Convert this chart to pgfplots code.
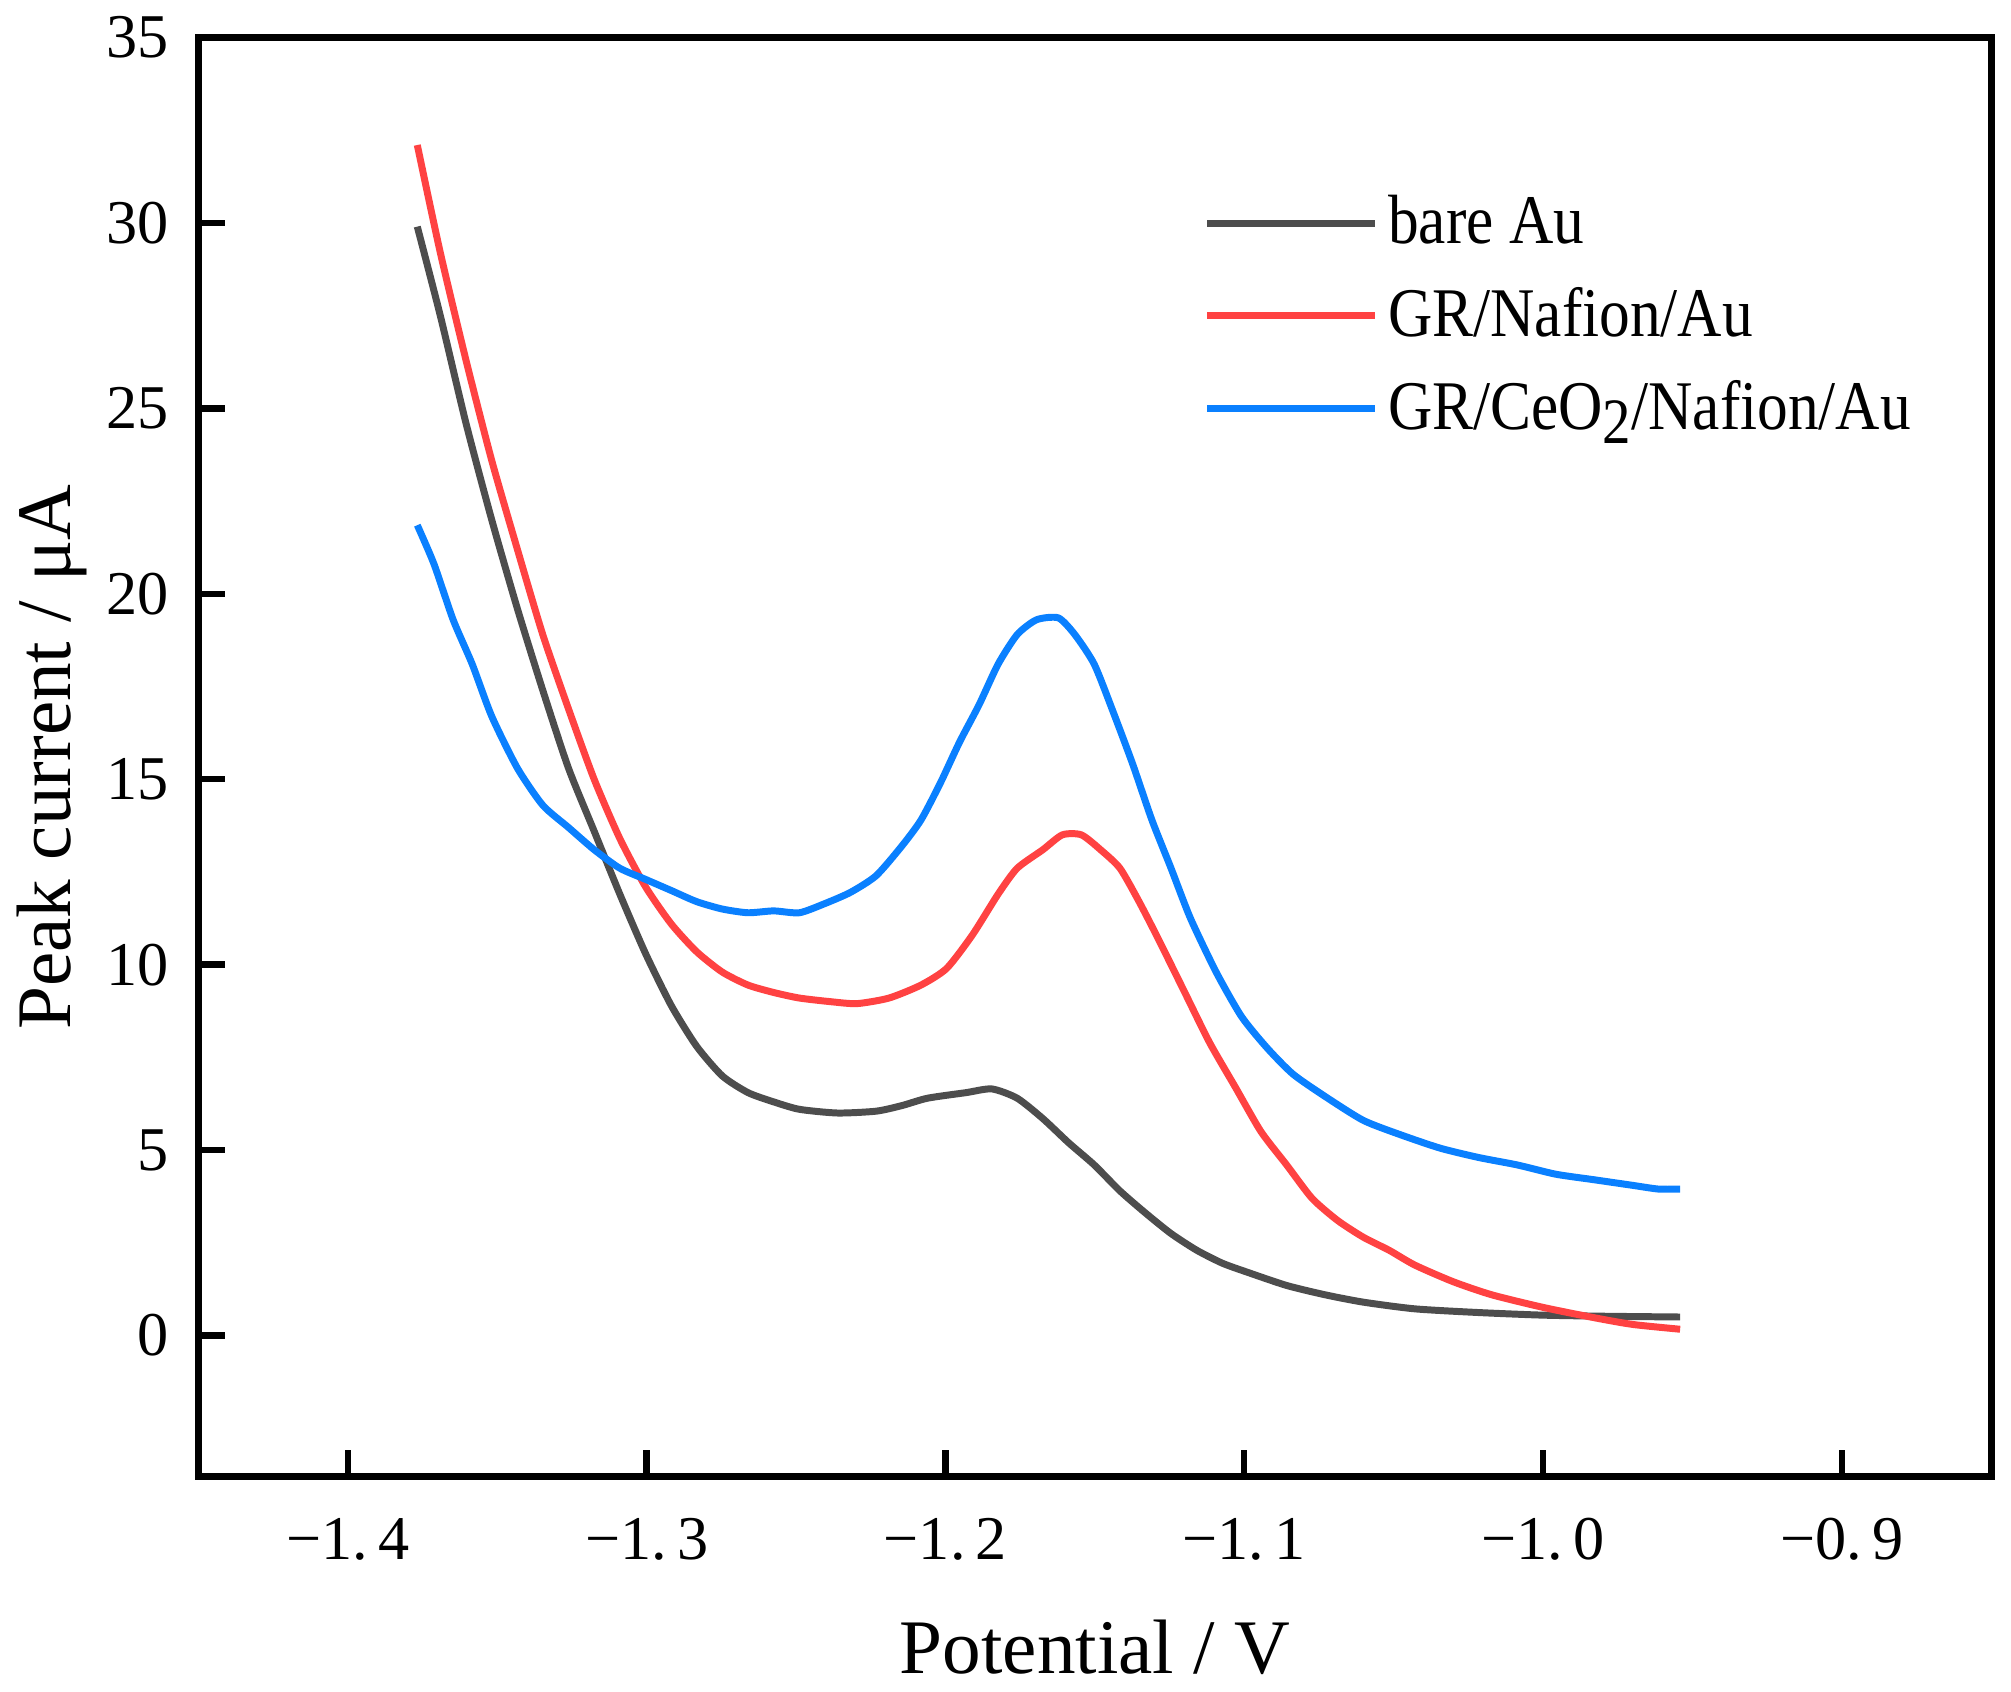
\documentclass[border=0pt]{standalone}
\usepackage{fontspec}
\setmainfont{Liberation Serif}
\newfontfamily\legfont[FakeStretch=0.88]{Liberation Serif}
\usepackage{pgfplots}
\pgfplotsset{compat=1.18}

\definecolor{cblack}{HTML}{4D4D4D}
\definecolor{cred}{HTML}{FF4242}
\definecolor{cblue}{HTML}{0A80FF}

\begin{document}
\begin{tikzpicture}
\begin{axis}[
  scale only axis,
  width=360pt, height=289pt,
  xmin=-1.45, xmax=-0.85,
  ymin=-3.8, ymax=35,
  xtick={-1.4,-1.3,-1.2,-1.1,-1.0,-0.9},
  xticklabels={−1.\,4,−1.\,3,−1.\,2,−1.\,1,−1.\,0,−0.\,9},
  ytick={0,5,10,15,20,25,30,35},
  tick align=inside,
  xtick pos=bottom, ytick pos=left,
  major tick length=5.3pt,
  every tick/.style={black, line width=1.3pt},
  axis line style={line width=1.4pt},
  /pgf/number format/assume math mode=true,
  tick label style={font=\fontsize{12.5}{14}\selectfont},
  x tick label style={yshift=-4.8pt},
  y tick label style={xshift=-2.4pt},
  xlabel={Potential / V},
  ylabel={Peak current / μA},
  label style={font=\fontsize{15.5}{18}\selectfont},
  xlabel style={at={(axis description cs:0.5,-0.119)}, anchor=center},
  ylabel style={at={(axis description cs:-0.082,0.5)}, anchor=center},
  legend cell align=left,
  legend style={at={(0.552,0.905)}, anchor=north west, draw=none, fill=none,
    font=\legfont\fontsize{14}{16}\selectfont, row sep=3.3pt},
  legend image code/.code={\draw[#1] (0pt,0pt) -- (33.6pt,0pt);},
  every axis plot/.append style={line width=1.4pt, smooth, tension=0.4},
]

% bare Au
\addplot[cblack] coordinates {
(-1.3768,29.9) (-1.3691,27.5) (-1.3605,24.6) (-1.3519,22.0) (-1.3433,19.6)
(-1.3348,17.4) (-1.3262,15.3) (-1.3176,13.6) (-1.3090,11.9) (-1.3004,10.3)
(-1.2918,8.9) (-1.2833,7.8) (-1.2747,7.0) (-1.2661,6.55) (-1.2575,6.3)
(-1.2489,6.1) (-1.2361,6.0) (-1.2232,6.05) (-1.2146,6.2) (-1.2060,6.4)
(-1.1931,6.55) (-1.1845,6.65) (-1.1760,6.4) (-1.1674,5.85) (-1.1588,5.2)
(-1.1502,4.6) (-1.1416,3.9) (-1.1330,3.3) (-1.1245,2.75) (-1.1159,2.3)
(-1.1073,1.95) (-1.0987,1.7) (-1.0858,1.35) (-1.0730,1.1) (-1.0601,0.9)
(-1.0429,0.72) (-1.0215,0.62) (-1.0000,0.55) (-0.9785,0.52) (-0.9541,0.5)
};
\addlegendentry{bare Au}

% GR/Nafion/Au
\addplot[cred] coordinates {
(-1.3768,32.1) (-1.3691,29.2) (-1.3605,26.3) (-1.3519,23.6) (-1.3433,21.2)
(-1.3348,18.9) (-1.3262,16.9) (-1.3176,15.0) (-1.3090,13.4) (-1.3004,12.1)
(-1.2918,11.1) (-1.2833,10.35) (-1.2747,9.8) (-1.2661,9.45) (-1.2575,9.25)
(-1.2489,9.1) (-1.2382,9.0) (-1.2296,8.95) (-1.2189,9.1) (-1.2082,9.45)
(-1.1996,9.9) (-1.1910,10.8) (-1.1824,11.9) (-1.1760,12.6) (-1.1674,13.1)
(-1.1609,13.5) (-1.1545,13.5) (-1.1481,13.1) (-1.1416,12.6) (-1.1352,11.7)
(-1.1288,10.7) (-1.1202,9.3) (-1.1116,7.9) (-1.1030,6.7) (-1.0944,5.5)
(-1.0858,4.6) (-1.0773,3.7) (-1.0687,3.1) (-1.0601,2.65) (-1.0515,2.3)
(-1.0429,1.9) (-1.0300,1.45) (-1.0172,1.1) (-1.0000,0.76) (-0.9828,0.48)
(-0.9700,0.3) (-0.9541,0.17)
};
\addlegendentry{GR/Nafion/Au}

% GR/CeO2/Nafion/Au
\addplot[cblue] coordinates {
(-1.3768,21.85) (-1.3712,20.8) (-1.3648,19.3) (-1.3584,18.1) (-1.3519,16.7)
(-1.3433,15.3) (-1.3348,14.3) (-1.3262,13.7) (-1.3176,13.1) (-1.3090,12.6)
(-1.3004,12.3) (-1.2918,12.0) (-1.2833,11.7) (-1.2747,11.5) (-1.2661,11.4)
(-1.2575,11.45) (-1.2489,11.4) (-1.2403,11.65) (-1.2318,11.95) (-1.2232,12.4)
(-1.2146,13.2) (-1.2082,13.9) (-1.2017,14.9) (-1.1953,16.0) (-1.1888,17.0)
(-1.1824,18.1) (-1.1760,18.9) (-1.1695,19.3) (-1.1622,19.35) (-1.1567,18.9)
(-1.1502,18.1) (-1.1438,16.8) (-1.1373,15.4) (-1.1309,13.9) (-1.1245,12.6)
(-1.1180,11.25) (-1.1094,9.8) (-1.1009,8.6) (-1.0923,7.75) (-1.0837,7.05)
(-1.0730,6.45) (-1.0601,5.8) (-1.0472,5.4) (-1.0343,5.05) (-1.0215,4.8)
(-1.0086,4.6) (-0.9957,4.35) (-0.9828,4.2) (-0.9700,4.05) (-0.9614,3.95)
(-0.9541,3.95)
};
\addlegendentry{GR/CeO\raisebox{-0.45ex}{\fontsize{13}{13}\selectfont 2}/Nafion/Au}

\end{axis}
\path (current axis.north east) ++(4pt,0pt);
\end{tikzpicture}
\end{document}
